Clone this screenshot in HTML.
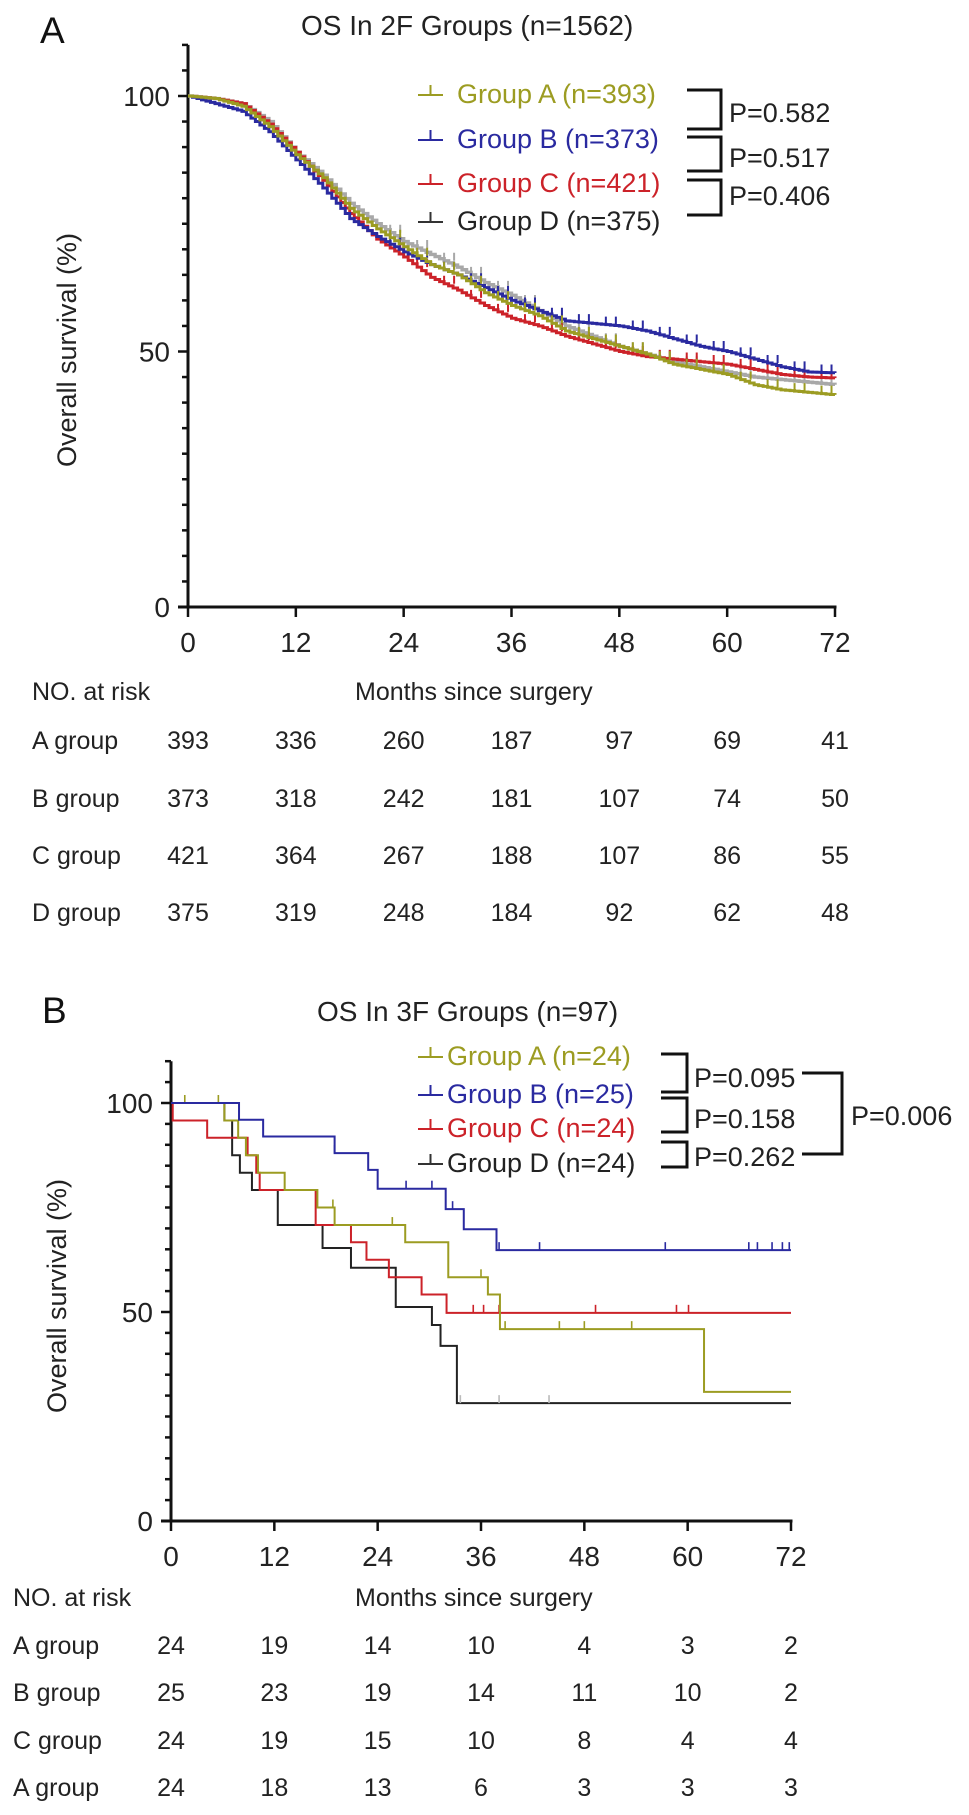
<!DOCTYPE html>
<html><head><meta charset="utf-8"><style>
html,body{margin:0;padding:0;background:#fff;}
svg{display:block;font-family:"Liberation Sans",Arial,sans-serif;}
</style></head><body>
<svg id="fig" width="969" height="1815" viewBox="0 0 969 1815" xmlns="http://www.w3.org/2000/svg">
<g id="pa"></g>
<g id="pb"></g>
</svg>
<script>
// ---------- Panel A data ----------
const aTimes = [0,3,6,9,12,15,18,21,24,27,30,33,36,39,42,45,48,51,54,57,60,63,66,69,72];
const aGroupA = [100,99.5,98,94,88.5,84,78,74,70.5,67,65,61.5,59,57,54,52.5,51,49.5,47.5,46.5,45.5,43.5,42.5,42,41.5];
const aGroupB = [100,98.5,97,93,87.5,82,76,72.5,69.5,67,65,62.5,60,58,56,55.5,55,54,52.5,51,50,48.5,47,46,45.8];
const aGroupC = [100,99.5,98.5,94.5,89,83.5,77,72,68.5,64.5,62,59,56.5,55,53,51.5,50,49,48.5,48,47.5,46.5,45.5,45,44.8];
const aGroupD = [100,99.5,98.5,95,89,84.5,79,75,71.5,69,66.5,63.5,61,58,55,53,51,49.5,48,47,46,45,44.5,44,43.5];
const aRiskA = [393,336,260,187,97,69,41];
const aRiskB = [373,318,242,181,107,74,50];
const aRiskC = [421,364,267,188,107,86,55];
const aRiskD = [375,319,248,184,92,62,48];
// ---------- Panel B data (step change points) ----------
const bTimesA = [0,6.2,7.8,8.7,10.1,13.2,17.0,19.0,27.2,32.2,36.8,38.2,61.9,72];
const bSurvA  = [100,95.8,91.7,87.5,83.3,79.2,75,70.8,66.7,58.3,54.2,45.9,30.9,30.9];
const bTimesB = [0,7.9,10.7,19.0,22.9,24.0,31.9,34.0,37.8,72];
const bSurvB  = [100,96,92,88,84,79.5,74.6,69.8,64.8,64.8];
const bTimesC = [0,0.2,4.2,8.9,9.9,10.3,16.8,20.9,22.7,25.3,29.1,32.0,72];
const bSurvC  = [100,95.8,91.7,87.5,83.3,79.2,70.8,66.7,62.5,58.3,54.2,49.8,49.8];
const bTimesD = [0,6.2,7.1,8.0,9.4,12.4,17.6,20.9,26.1,30.3,31.3,33.2,72];
const bSurvD  = [100,95.8,87.5,83.3,79.2,70.8,65.3,60.6,51.2,46.9,41.9,28.2,28.2];
const bCensA = [1.6,5.5,18.8,25.7,36,38.8,45.1,48,53.5];
const bCensB = [19,27.3,30.3,32.7,38.1,42.8,57.4,67.1,68.1,69.8,71,71.8];
const bCensC = [35.1,36.3,38.1,49.3,58.7,60.1];
const bCensD = [33.6,38.1,43.9];
const bRiskA = [24,19,14,10,4,3,2];
const bRiskB = [25,23,19,14,11,10,2];
const bRiskC = [24,19,15,10,8,4,4];
const bRiskD = [24,18,13,6,3,3,3];
const xTicks = [0,12,24,36,48,60,72];
const yTicks = [0,50,100];

const NS="http://www.w3.org/2000/svg";
const COL={A:"#9c9c22",B:"#2a2aa0",C:"#cc2229",D:"#222222"};
function mk(tag,attrs,parent,text){const e=document.createElementNS(NS,tag);for(const k in attrs)e.setAttribute(k,attrs[k]);if(text!==undefined)e.textContent=text;parent.appendChild(e);return e;}

function panel(g,cfg){
  const X=t=>cfg.x0+t/72*(cfg.x1-cfg.x0);
  const Y=p=>cfg.y0-p/100*(cfg.y0-cfg.y100);
  let e=mk("line",{x1:cfg.x0,y1:Y(110),x2:cfg.x0,y2:cfg.y0,stroke:"#111","stroke-width":3},g);
  
  
  e=mk("line",{x1:cfg.x0-10,y1:cfg.y0,x2:cfg.x1+1.5,y2:cfg.y0,stroke:"#111","stroke-width":3},g);
  
  
  for(let p=0;p<=110;p+=5){
    const major=yTicks.includes(p);
    e=mk("line",{x1:cfg.x0-(major?10:6),y1:Y(p),x2:cfg.x0,y2:Y(p),stroke:"#111","stroke-width":2.5},g);
    
    
  }
  yTicks.forEach(p=>{
    e=mk("text",{x:cfg.x0-18,y:Y(p)+10,"text-anchor":"end","font-size":28,fill:"#222"},g,String(p));
    
    
  });
  xTicks.forEach(t=>{
    e=mk("line",{x1:X(t),y1:cfg.y0,x2:X(t),y2:cfg.y0+10,stroke:"#111","stroke-width":2.5},g);
    
    
    e=mk("text",{x:X(t),y:cfg.xl+10,"text-anchor":"middle","font-size":28,fill:"#222"},g,String(t));
    
    
  });
  e=mk("text",{transform:`translate(${cfg.yt[0]},${cfg.yt[1]}) rotate(-90)`,"text-anchor":"middle","font-size":27,fill:"#222"},g,"Overall survival (%)");
  
  
  e=mk("text",{x:cfg.lx,y:cfg.ly+13,"font-size":37,fill:"#111"},g,cfg.letter);
  
  
  e=mk("text",{x:cfg.tx,y:cfg.ty+10,"font-size":28,fill:"#222"},g,cfg.title);
  
  
  e=mk("text",{x:cfg.rx,y:cfg.rh+9,"font-size":25,fill:"#222"},g,"NO. at risk");
  
  
  e=mk("text",{x:355,y:cfg.rh+9,"font-size":25,fill:"#222"},g,"Months since surgery");
  
  
  cfg.risk.forEach((row,i)=>{
    const yy=cfg.rr[i]+9;
    e=mk("text",{x:cfg.rx,y:yy,"font-size":25,fill:"#222"},g,cfg.rowNames[i]);
    
    
    row.forEach((v,j)=>{
      e=mk("text",{x:X(xTicks[j]),y:yy,"text-anchor":"middle","font-size":25,fill:"#222"},g,String(v));
      
      
    });
  });
  return {X,Y};
}

function bracket(g,x1,x2,ya,yb){
  const e=mk("path",{d:`M${x1} ${ya}H${x2}V${yb}H${x1}`,fill:"none",stroke:"#111","stroke-width":3},g);
  
  
}
function legend(g,x,tx,y,key,label){
  const c=COL[key];
  let e=mk("path",{d:`M${x} ${y+2}H${x+25}M${x+12.5} ${y+2}V${y-8}`,stroke:key==="D"?"#333":c,"stroke-width":2,fill:"none"},g);
  
  
  e=mk("text",{x:tx,y:y+10,"font-size":27,fill:c},g,label);
  
  
}

// ----- Panel A -----
const ga=document.getElementById("pa");
const A=panel(ga,{x0:188,x1:835,y0:607,y100:96,xl:642,yt:[76,350],lx:40,ly:30,letter:"A",tx:301,ty:25,title:"OS In 2F Groups (n=1562)",rx:32,rh:691,rr:[740,798,855,912],rowNames:["A group","B group","C group","D group"],risk:[aRiskA,aRiskB,aRiskC,aRiskD]});
function smoothSteps(times,vals,X,Y){
  let d=`M${X(times[0])} ${Y(vals[0])}`;
  for(let i=1;i<times.length;i++){
    const n=6;
    for(let k=1;k<=n;k++){
      const t=times[i-1]+(times[i]-times[i-1])*k/n;
      const v=vals[i-1]+(vals[i]-vals[i-1])*k/n;
      d+=`H${X(t)}V${Y(v)}`;
    }
  }
  return d;
}
[["D",aGroupD,"#a8a8a8"],["C",aGroupC,COL.C],["B",aGroupB,COL.B],["A",aGroupA,COL.A]].forEach(([k,vals,c])=>{
  let e=mk("path",{d:smoothSteps(aTimes,vals,A.X,A.Y),fill:"none",stroke:c,"stroke-width":k==="D"?3.4:3},ga);
  
  
  for(let i=8;i<aTimes.length;i++){
    const t=(aTimes[i-1]+aTimes[i])/2, v=(vals[i-1]+vals[i])/2;
    e=mk("path",{d:`M${A.X(t)} ${A.Y(v)}v-8M${A.X(t)+10} ${A.Y(v)}v-8`,stroke:c,"stroke-width":2},ga);
    
    
  }
});
legend(ga,418,457,93,"A","Group A (n=393)");
legend(ga,418,457,138,"B","Group B (n=373)");
legend(ga,418,457,182,"C","Group C (n=421)");
legend(ga,418,457,220,"D","Group D (n=375)");
bracket(ga,687,721,90,129);
bracket(ga,687,721,137,171);
bracket(ga,687,721,180,215);
[["P=0.582",112],["P=0.517",157],["P=0.406",195]].forEach(([t,y])=>{
  const e=mk("text",{x:729,y:y+10,"font-size":27,fill:"#222"},ga,t);
  
  
});

// ----- Panel B -----
const gb=document.getElementById("pb");
const B=panel(gb,{x0:171,x1:791,y0:1521,y100:1103,xl:1556,yt:[66,1296],lx:42,ly:1010,letter:"B",tx:317,ty:1011,title:"OS In 3F Groups (n=97)",rx:13,rh:1597,rr:[1645,1692,1740,1787],rowNames:["A group","B group","C group","A group"],risk:[bRiskA,bRiskB,bRiskC,bRiskD]});
function steps(times,vals,X,Y){
  let d=`M${X(times[0])} ${Y(vals[0])}`;
  for(let i=1;i<times.length;i++)d+=`H${X(times[i])}V${Y(vals[i])}`;
  return d;
}
function survAt(times,vals,t){let v=vals[0];for(let i=0;i<times.length;i++){if(times[i]<=t)v=vals[i];}return v;}
[["D",bTimesD,bSurvD,bCensD],["C",bTimesC,bSurvC,bCensC],["A",bTimesA,bSurvA,bCensA],["B",bTimesB,bSurvB,bCensB]].forEach(([k,ts,vs,cs])=>{
  let e=mk("path",{d:steps(ts,vs,B.X,B.Y),fill:"none",stroke:COL[k],"stroke-width":2},gb);
  
  
  cs.forEach(t=>{
    const v=survAt(ts,vs,t);
    e=mk("line",{x1:B.X(t),y1:B.Y(v),x2:B.X(t),y2:B.Y(v)-8,stroke:k==="D"?"#bbb":COL[k],"stroke-width":1.6},gb);
    
    
  });
});
legend(gb,418,447,1055,"A","Group A (n=24)");
legend(gb,418,447,1093,"B","Group B (n=25)");
legend(gb,418,447,1127,"C","Group C (n=24)");
legend(gb,418,447,1162,"D","Group D (n=24)");
bracket(gb,661,687,1054,1092);
bracket(gb,661,687,1098,1132);
bracket(gb,661,687,1142,1167);
bracket(gb,802,842,1073,1154);
[["P=0.095",694,1077],["P=0.158",694,1118],["P=0.262",694,1156],["P=0.006",851,1115]].forEach(([t,x,y])=>{
  const e=mk("text",{x:x,y:y+10,"font-size":27,fill:"#222"},gb,t);
  
  
});
</script>
</body></html>
